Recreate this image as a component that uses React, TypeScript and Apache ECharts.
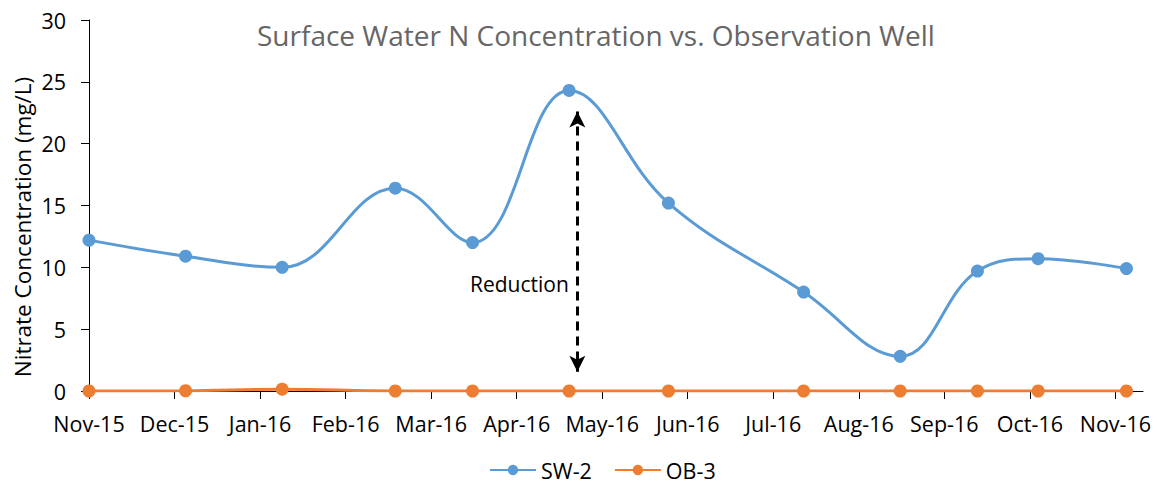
import React, { useEffect, useRef } from "react";
import * as echarts from "echarts";

// Sampling day (days from axis start) for each observation
const sampleDays = [0, 35, 70, 111, 139, 174, 210, 259, 294, 322, 344, 376];
// Nitrate concentration (mg/L)
const sw2Values = [12.2, 10.9, 10.0, 16.4, 12.0, 24.3, 15.2, 8.0, 2.8, 9.7, 10.7, 9.9];
const ob3Values = [0.0, 0.02, 0.15, 0.0, 0.0, 0.0, 0.0, 0.0, 0.0, 0.0, 0.0, 0.0];

// X axis ticks (every 31 days) and their labels
const tickDays = [0, 31, 62, 93, 124, 155, 186, 217, 248, 279, 310, 341, 372];
const tickLabels = [
  "Nov-15", "Dec-15", "Jan-16", "Feb-16", "Mar-16", "Apr-16", "May-16",
  "Jun-16", "Jul-16", "Aug-16", "Sep-16", "Oct-16", "Nov-16",
];
const axisMaxDay = 382;

// Annotation
const arrowDay = 177;
const arrowTop = 22.6;
const arrowBottom = 1.55;
const reductionLabel = "Reduction";
const reductionDay = 156;
const reductionValue = 8.65;

const FONT = "'Open Sans', sans-serif";
const yTitle = "Nitrate Concentration (mg/L)";

export default function App() {
  const ref = useRef<HTMLDivElement>(null);
  useEffect(() => {
    document.body.style.margin = "0";
    const chart = echarts.init(ref.current!, null, { renderer: "svg" });
    const sw2 = sampleDays.map((d, i) => [d, sw2Values[i]]);
    const ob3 = sampleDays.map((d, i) => [d, ob3Values[i]]);
    chart.setOption({
      animation: false,
      backgroundColor: "#ffffff",
      textStyle: { fontFamily: FONT },
      title: {
        text: "Surface Water N Concentration vs. Observation Well",
        left: 252,
        top: 16,
        textStyle: { fontFamily: FONT, fontSize: 28, fontWeight: "normal", color: "#666666" },
      },
      legend: {
        left: 484,
        top: 454,
        itemWidth: 46,
        itemHeight: 13,
        itemGap: 22,
        textStyle: { fontFamily: FONT, fontSize: 21.5, color: "#000" },
        data: ["SW-2", "OB-3"],
      },
      graphic: [
        {
          type: "text",
          x: 22,
          y: 227,
          rotation: Math.PI / 2,
          silent: true,
          style: {
            text: yTitle,
            fontFamily: FONT,
            fontSize: 22.5,
            fill: "#000",
            textAlign: "center",
            textVerticalAlign: "middle",
          },
        },
      ],
      grid: { left: 89, right: 14, top: 20, bottom: 92, containLabel: false },
      xAxis: {
        type: "value",
        min: 0,
        max: axisMaxDay,
        axisLine: { show: true, lineStyle: { color: "#000", width: 1 } },
        axisTick: { show: true, length: 8, inside: false, customValues: tickDays, lineStyle: { color: "#000" } },
        splitLine: { show: false },
        axisLabel: {
          customValues: tickDays,
          fontFamily: FONT,
          fontSize: 21.5,
          color: "#000",
          margin: 21,
          formatter: (v: number) => {
            const i = tickDays.indexOf(Math.round(v));
            return i >= 0 ? tickLabels[i] : "";
          },
        },
      },
      yAxis: {
        type: "value",
        min: 0,
        max: 30,
        interval: 5,
        axisLine: { show: true, lineStyle: { color: "#000", width: 1 } },
        axisTick: { show: true, length: 8, lineStyle: { color: "#000" } },
        splitLine: { show: false },
        axisLabel: { fontFamily: FONT, fontSize: 21.5, color: "#000", margin: 23 },
      },
      series: [
        {
          name: "SW-2",
          type: "line",
          data: sw2,
          smooth: 0.4,
          symbol: "circle",
          symbolSize: 13,
          lineStyle: { color: "#5B9BD5", width: 3 },
          itemStyle: { color: "#5B9BD5" },
          z: 3,
          markLine: {
            silent: true,
            symbol: ["arrow", "arrow"],
            symbolSize: [12, 16],
            lineStyle: { color: "#000", type: [9, 6], width: 3 },
            label: { show: false },
            data: [[{ coord: [arrowDay, arrowTop] }, { coord: [arrowDay, arrowBottom] }]],
          },
          markPoint: {
            silent: true,
            symbol: "circle",
            symbolSize: 0,
            label: {
              show: true,
              formatter: reductionLabel,
              position: "inside",
              fontFamily: FONT,
              fontSize: 21,
              color: "#000",
            },
            data: [{ coord: [reductionDay, reductionValue] }],
          },
        },
        {
          name: "OB-3",
          type: "line",
          data: ob3,
          smooth: 0.4,
          symbol: "circle",
          symbolSize: 13,
          lineStyle: { color: "#ED7D31", width: 3 },
          itemStyle: { color: "#ED7D31" },
          z: 4,
        },
      ],
    });
    return () => chart.dispose();
  }, []);
  return <div ref={ref} style={{ position: "fixed", left: 0, top: 0, width: 1157, height: 483 }} />;
}
